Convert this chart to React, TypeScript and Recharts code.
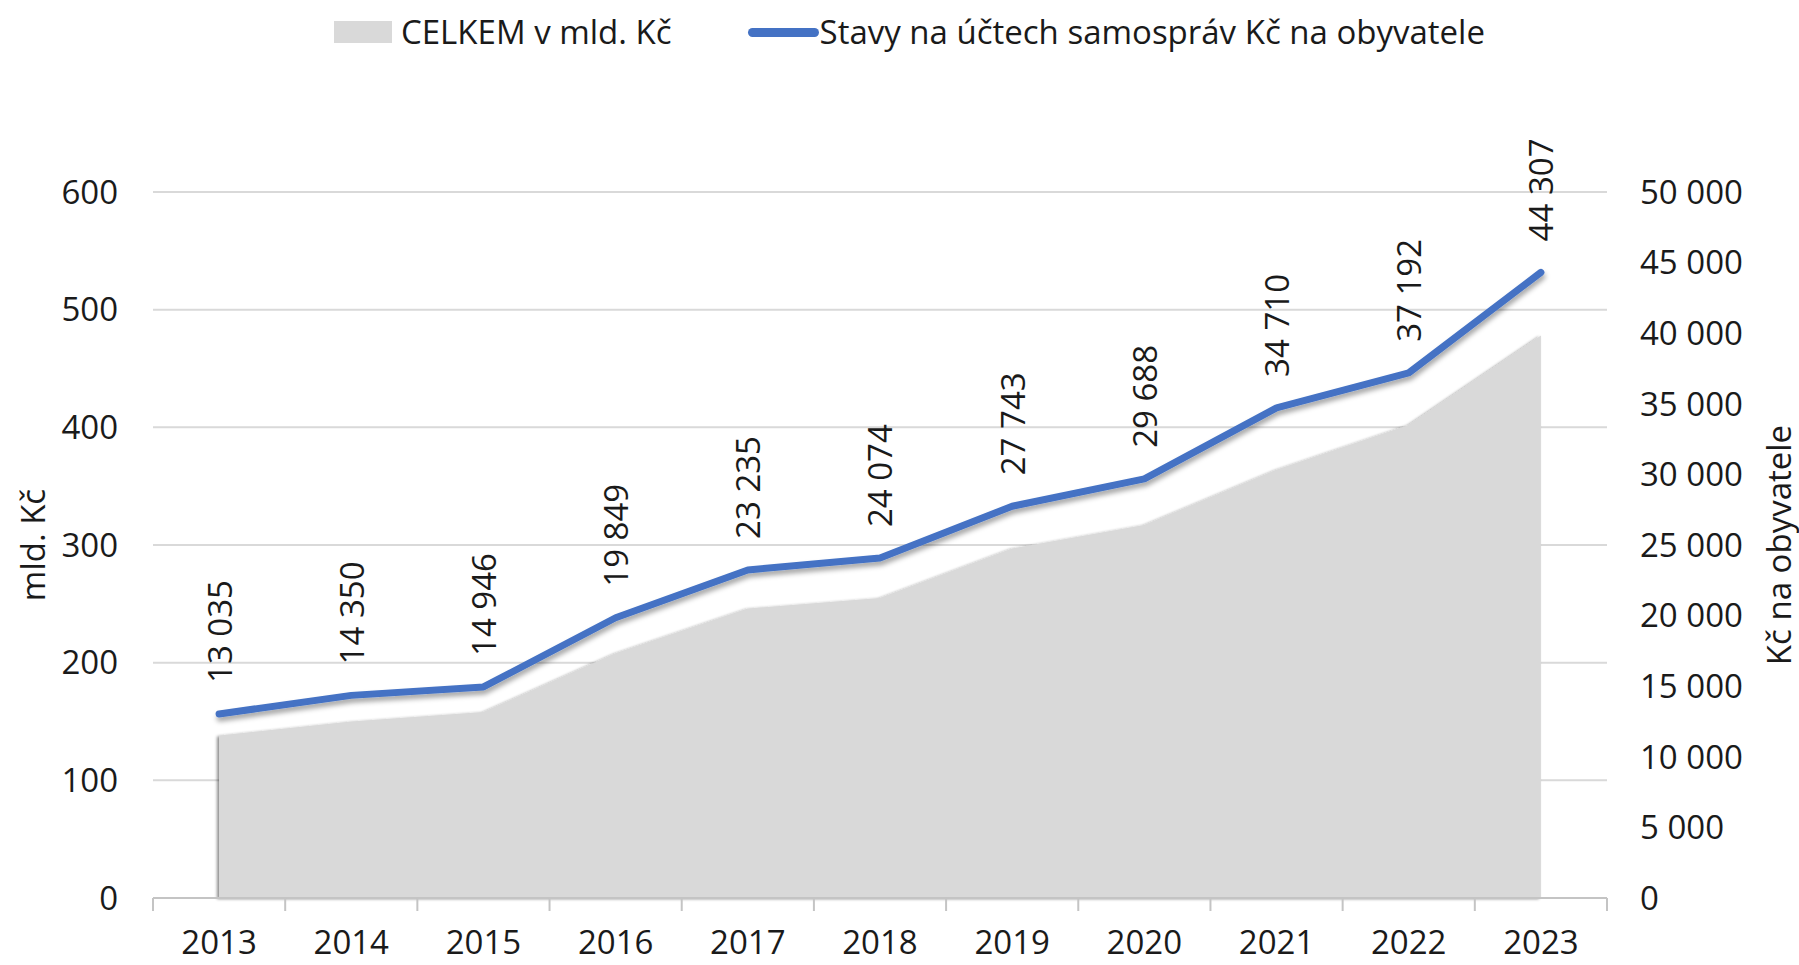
import React from 'react';
import {
  ComposedChart,
  Area,
  Line,
  XAxis,
  YAxis,
  CartesianGrid,
  LabelList,
} from 'recharts';

const years = ['2013', '2014', '2015', '2016', '2017', '2018', '2019', '2020', '2021', '2022', '2023'];
const celkem = [138, 150, 158, 208, 246, 255, 297, 317, 364, 402, 478];
const perCapita = [13035, 14350, 14946, 19849, 23235, 24074, 27743, 29688, 34710, 37192, 44307];

const leftTicks = [0, 100, 200, 300, 400, 500, 600];
const rightTicks = [0, 5000, 10000, 15000, 20000, 25000, 30000, 35000, 40000, 45000, 50000];

const data = years.map((year, i) => ({
  year,
  celkem: celkem[i],
  perCapita: perCapita[i],
}));

const FONT = '"Open Sans", sans-serif';
const FS = 33;
const TEXT = '#1a1a1a';
const GRID = '#d9d9d9';
const AXIS = '#c4c4c4';
const BLUE = '#4472c4';
const GRAY = '#d9d9d9';

const W = 1799;
const H = 965;
const LEFT_W = 153;
const RIGHT_W = 192;
const TOP = 192;
const X_H = 67;
const BAND = (W - LEFT_W - RIGHT_W) / years.length;

const fmt = (v: number) => String(v).replace(/\B(?=(\d{3})+(?!\d))/g, ' ');

const YearTick = (props: any) => {
  const { x, y, payload, index } = props;
  const half = BAND / 2;
  return (
    <g>
      <line x1={x - half} x2={x - half} y1={y} y2={y + 13} stroke={AXIS} strokeWidth={2} />
      {index === years.length - 1 && (
        <line x1={x + half} x2={x + half} y1={y} y2={y + 13} stroke={AXIS} strokeWidth={2} />
      )}
      <text x={x} y={y + 56} textAnchor="middle" fontFamily={FONT} fontSize={FS} fill={TEXT}>
        {payload.value}
      </text>
    </g>
  );
};

const ValueLabel = (props: any) => {
  const { x, y, value } = props;
  const ly = y - 31;
  return (
    <text
      x={x}
      y={ly}
      transform={`rotate(-90, ${x}, ${ly})`}
      textAnchor="start"
      dominantBaseline="central"
      fontFamily={FONT}
      fontSize={FS}
      fill={TEXT}
    >
      {fmt(value)}
    </text>
  );
};

const axisTitle = (text: string, dx: number) => (p: any) => {
  const vb = p.viewBox;
  const cx = vb.x + dx;
  const cy = vb.y + vb.height / 2;
  return (
    <text
      x={cx}
      y={cy}
      transform={`rotate(-90, ${cx}, ${cy})`}
      textAnchor="middle"
      dominantBaseline="central"
      fontFamily={FONT}
      fontSize={FS}
      fill={TEXT}
    >
      {text}
    </text>
  );
};

export default function App() {
  return (
    <div style={{ position: 'absolute', left: 0, top: 0, width: W, height: H, background: '#fff' }}>
      <style>{`
        .recharts-area-area { filter: url(#areaShadow); }
        .recharts-line-curve { filter: url(#lineShadow); }
      `}</style>
      <svg width={0} height={0} style={{ position: 'absolute' }}>
        <defs>
          <filter id="lineShadow" x="-10%" y="-10%" width="120%" height="130%">
            <feDropShadow dx={1} dy={4} stdDeviation={2.5} floodColor="#000" floodOpacity={0.35} />
          </filter>
          <filter id="areaShadow" x="-5%" y="-5%" width="110%" height="110%">
            <feDropShadow dx={-2} dy={1} stdDeviation={1.5} floodColor="#000" floodOpacity={0.45} />
          </filter>
        </defs>
      </svg>

      {/* legend */}
      <div
        style={{
          position: 'absolute',
          top: 12,
          left: 334,
          display: 'flex',
          alignItems: 'center',
          fontFamily: FONT,
          fontSize: FS,
          color: TEXT,
          whiteSpace: 'nowrap',
          lineHeight: '40px',
        }}
      >
        <span style={{ display: 'inline-block', width: 58, height: 22, background: GRAY, marginRight: 9 }} />
        <span>CELKEM v mld. Kč</span>
        <span
          style={{
            display: 'inline-block',
            width: 71,
            height: 9,
            borderRadius: 5,
            background: BLUE,
            marginLeft: 76,
            marginRight: 1,
          }}
        />
        <span>Stavy na účtech samospráv Kč na obyvatele</span>
      </div>

      <ComposedChart
        width={W}
        height={H}
        data={data}
        margin={{ top: TOP, right: 0, bottom: 0, left: 0 }}
      >
        <CartesianGrid yAxisId="left" vertical={false} stroke={GRID} strokeWidth={2} />
        <XAxis
          dataKey="year"
          scale="band"
          height={X_H}
          tickSize={0}
          tickMargin={0}
          tickLine={false}
          axisLine={{ stroke: AXIS, strokeWidth: 2 }}
          tick={<YearTick />}
          interval={0}
        />
        <YAxis
          yAxisId="left"
          orientation="left"
          width={LEFT_W}
          domain={[0, 600]}
          ticks={leftTicks}
          axisLine={false}
          tickLine={false}
          tickSize={0}
          tickMargin={35}
          tick={{ fontFamily: FONT, fontSize: FS, fill: TEXT }}
          label={{ content: axisTitle('mld. Kč', 32) }}
        />
        <YAxis
          yAxisId="right"
          orientation="right"
          width={RIGHT_W}
          domain={[0, 50000]}
          ticks={rightTicks}
          axisLine={false}
          tickLine={false}
          tickSize={0}
          tickMargin={33}
          tickFormatter={fmt}
          tick={{ fontFamily: FONT, fontSize: FS, fill: TEXT }}
          label={{ content: axisTitle('Kč na obyvatele', 171) }}
        />
        <Area
          yAxisId="left"
          dataKey="celkem"
          type="linear"
          fill={GRAY}
          fillOpacity={1}
          stroke="none"
          isAnimationActive={false}
          activeDot={false}
        />
        <Line
          yAxisId="right"
          dataKey="perCapita"
          type="linear"
          stroke={BLUE}
          strokeWidth={7}
          strokeLinecap="round"
          strokeLinejoin="round"
          dot={false}
          activeDot={false}
          isAnimationActive={false}
        >
          <LabelList dataKey="perCapita" content={<ValueLabel />} />
        </Line>
      </ComposedChart>
    </div>
  );
}
